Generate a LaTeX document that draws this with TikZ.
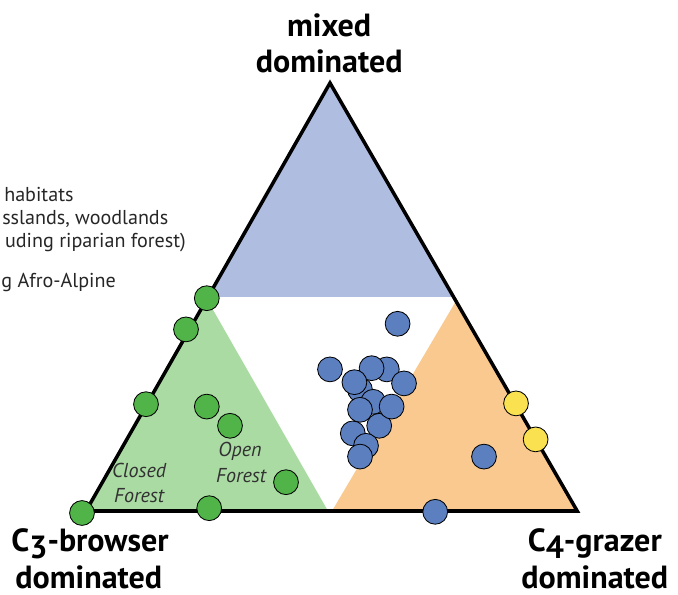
\documentclass[tikz,border=0pt]{standalone}
\usepackage{fontspec}
\setmainfont{PT Sans}
\definecolor{zoneblue}{RGB}{175,190,224}
\definecolor{zonegreen}{RGB}{170,219,163}
\definecolor{zoneorange}{RGB}{249,201,143}
\definecolor{dotgreen}{RGB}{80,180,72}
\definecolor{dotblue}{RGB}{92,127,192}
\definecolor{dotyellow}{RGB}{250,225,80}
\definecolor{inkgray}{RGB}{50,50,50}
\newcommand{\lownum}[1]{\raisebox{-0.2em}{#1}}

\begin{document}
\begin{tikzpicture} [scale = 1,
  bigtext/.style = {black, anchor = base, inner sep = 0pt, font = \fontsize{22.8}{27}\selectfont\bfseries},
  keytext/.style = {black!85, anchor = base west, inner sep = 0pt, font = \fontsize{14.3}{17}\selectfont},
  zonetext/.style = {inkgray, anchor = base, inner sep = 0pt, font = \fontsize{14.3}{17}\selectfont\itshape},
  greendot/.style = {draw = black, fill = dotgreen, line width = 0.6pt},
  bluedot/.style = {draw = black, fill = dotblue, line width = 0.6pt},
  yellowdot/.style = {draw = black, fill = dotyellow, line width = 0.6pt}]
\useasboundingbox (0, 0) rectangle (16.95, 14.875);
% zones
\fill[zoneblue] (8.25, 12.8) -- (5.2, 7.45) -- (11.34, 7.45) -- cycle;
\fill[zonegreen] (2.15, 2.1) -- (5.17, 7.4) -- (8.2, 2.1) -- cycle;
\fill[zoneorange] (8.3, 2.1) -- (11.4, 7.35) -- (14.43, 2.1) -- cycle;
\draw[black, line width = 2.5pt, line join = miter] (8.25, 12.8) -- (2.15, 2.1) -- (14.43, 2.1) -- cycle;
% labels
\node[bigtext] (topA) at (8.23, 13.95){mixed};
\node[bigtext] (topB) at (8.23, 13.05){dominated};
\node[bigtext] (leftA) at (2.25, 1.075){C\lownum{3}-browser};
\node[bigtext] (leftB) at (2.22, 0.17){dominated};
\node[bigtext] (rightA) at (14.87, 1.075){C\lownum{4}-grazer};
\node[bigtext] (rightB) at (14.87, 0.17){dominated};
\node[keytext] (keyA) at (0.1, 9.83){habitats};
\node[keytext] (keyB) at (0.05, 9.25){sslands, woodlands};
\node[keytext] (keyC) at (0.12, 8.675){uding riparian forest)};
\node[keytext] (keyD) at (0.03, 7.675){g Afro-Alpine};
\node[zonetext] (closedA) at (3.48, 2.925){Closed};
\node[zonetext] (closedB) at (3.48, 2.31){Forest};
\node[zonetext] (openA) at (6.0, 3.46){Open};
\node[zonetext] (openB) at (6.03, 2.81){Forest};
% green points
\draw[greendot] (5.17, 7.42) circle [radius = 0.31];
\draw[greendot] (4.65, 6.64) circle [radius = 0.31];
\draw[greendot] (3.65, 4.77) circle [radius = 0.31];
\draw[greendot] (5.17, 4.71) circle [radius = 0.31];
\draw[greendot] (5.75, 4.23) circle [radius = 0.31];
\draw[greendot] (7.15, 2.82) circle [radius = 0.31];
\draw[greendot] (5.23, 2.17) circle [radius = 0.31];
\draw[greendot] (2.05, 2.05) circle [radius = 0.31];
% blue points
\draw[bluedot] (9.94, 6.78) circle [radius = 0.31];
\draw[bluedot] (8.25, 5.64) circle [radius = 0.31];
\draw[bluedot] (9.67, 5.64) circle [radius = 0.31];
\draw[bluedot] (9.29, 5.67) circle [radius = 0.31];
\draw[bluedot] (9.0, 5.13) circle [radius = 0.31];
\draw[bluedot] (8.86, 5.32) circle [radius = 0.31];
\draw[bluedot] (9.33, 4.83) circle [radius = 0.31];
\draw[bluedot] (10.1, 5.29) circle [radius = 0.31];
\draw[bluedot] (9.0, 4.63) circle [radius = 0.31];
\draw[bluedot] (9.48, 4.23) circle [radius = 0.31];
\draw[bluedot] (9.79, 4.71) circle [radius = 0.31];
\draw[bluedot] (8.82, 4.04) circle [radius = 0.31];
\draw[bluedot] (9.15, 3.73) circle [radius = 0.31];
\draw[bluedot] (9.0, 3.46) circle [radius = 0.31];
\draw[bluedot] (12.1, 3.46) circle [radius = 0.31];
\draw[bluedot] (10.88, 2.08) circle [radius = 0.31];
% yellow points
\draw[yellowdot] (12.9, 4.79) circle [radius = 0.31];
\draw[yellowdot] (13.39, 3.89) circle [radius = 0.31];
\end{tikzpicture}
\end{document}
